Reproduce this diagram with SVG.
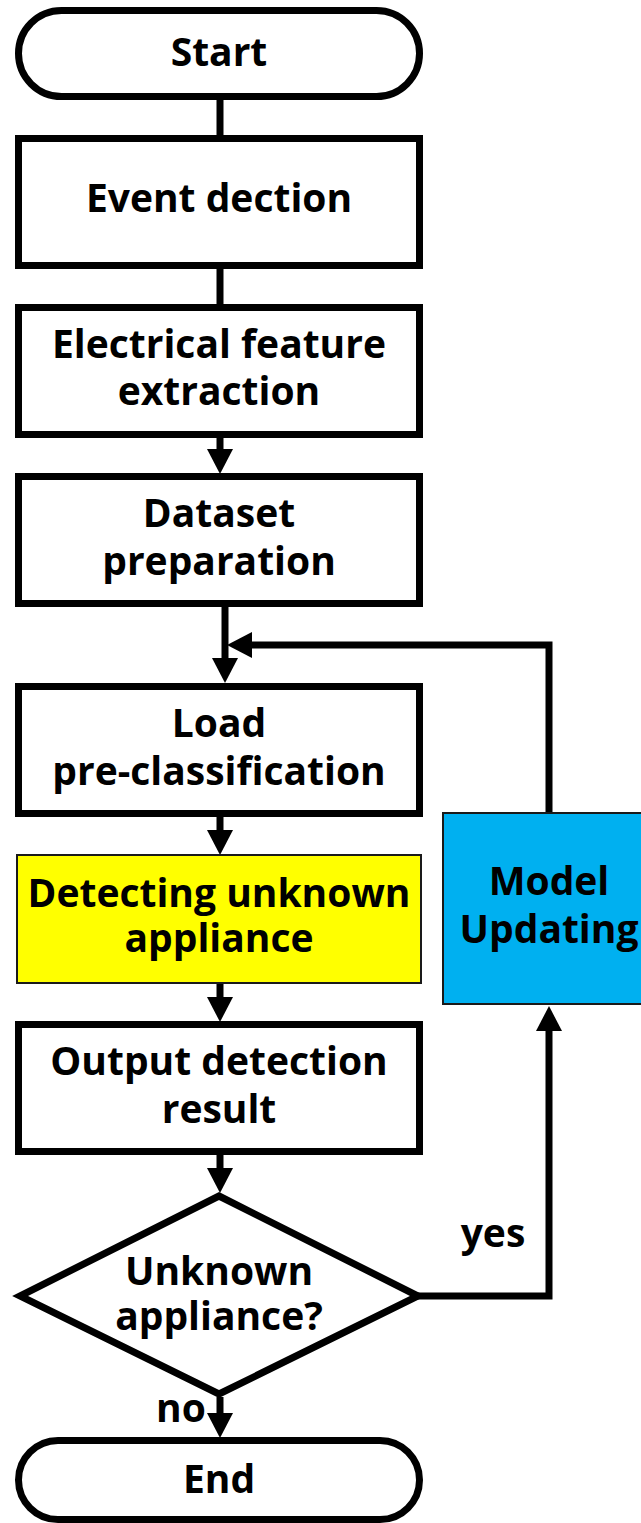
<svg xmlns="http://www.w3.org/2000/svg" width="641" height="1523" viewBox="0 0 641 1523">
<style>
.box{fill:#fff;stroke:#000;stroke-width:7;stroke-linejoin:miter}
.t{font-family:"Open Sans","Liberation Sans",sans-serif;font-weight:bold;font-size:39px;fill:#000;text-anchor:middle}
.c{fill:none;stroke:#000;stroke-width:7}
</style>
<defs>
<marker id="ah" markerUnits="userSpaceOnUse" markerWidth="26" markerHeight="26" viewBox="0 0 26 26" refX="2" refY="13" orient="auto">
<path d="M0,0 L25,13 L0,26 z" fill="#000"/>
</marker>
</defs>
<rect width="641" height="1523" fill="#fff"/>
<g id="connectors">
<path class="c" d="M220,100 V136"/>
<path class="c" d="M220,269 V305"/>
<path class="c" d="M220,438 V451" marker-end="url(#ah)"/>
<path class="c" d="M225,607 V660" marker-end="url(#ah)"/>
<path class="c" d="M549,814 V645 H250" marker-end="url(#ah)"/>
<path class="c" d="M220,817 V832" marker-end="url(#ah)"/>
<path class="c" d="M220,984 V999" marker-end="url(#ah)"/>
<path class="c" d="M220,1155 V1170" marker-end="url(#ah)"/>
<path class="c" d="M418,1296 H549 V1029" marker-end="url(#ah)"/>
<path class="c" d="M220,1397 V1415" marker-end="url(#ah)"/>
</g>
<g id="start">
<rect class="box" x="18.5" y="10.5" width="401" height="86" rx="43"/>
<text class="t" x="219" y="66">Start</text>
</g>
<g id="event">
<rect class="box" x="18.5" y="138.5" width="401" height="127"/>
<text class="t" x="219" y="212">Event dection</text>
</g>
<g id="feature">
<rect class="box" x="18.5" y="307.5" width="401" height="127"/>
<text class="t" x="219" y="358">Electrical feature</text>
<text class="t" x="219" y="405">extraction</text>
</g>
<g id="dataset">
<rect class="box" x="18.5" y="476.5" width="401" height="127"/>
<text class="t" x="219" y="527">Dataset</text>
<text class="t" x="219" y="575">preparation</text>
</g>
<g id="load">
<rect class="box" x="18.5" y="686.5" width="401" height="127"/>
<text class="t" x="219" y="737">Load</text>
<text class="t" x="219" y="785">pre-classification</text>
</g>
<g id="detect">
<rect x="17" y="855" width="404" height="128" fill="#FFFF00" stroke="#1a1a1a" stroke-width="2"/>
<text class="t" x="219" y="907">Detecting unknown</text>
<text class="t" x="219" y="952">appliance</text>
</g>
<g id="output">
<rect class="box" x="18.5" y="1024.5" width="401" height="127"/>
<text class="t" x="219" y="1075">Output detection</text>
<text class="t" x="219" y="1123">result</text>
</g>
<g id="decision">
<polygon class="box" points="219,1196 418,1296 219,1394 20,1296"/>
<text class="t" x="219" y="1285">Unknown</text>
<text class="t" x="219" y="1330">appliance?</text>
</g>
<g id="model">
<rect x="443" y="813" width="210" height="191" fill="#00B0F0" stroke="#1a1a1a" stroke-width="2"/>
<text class="t" x="549" y="895">Model</text>
<text class="t" x="549" y="943">Updating</text>
</g>
<g id="end">
<rect class="box" x="18.5" y="1440.5" width="401" height="79" rx="39.5"/>
<text class="t" x="219" y="1493">End</text>
</g>
<text class="t" x="493" y="1247">yes</text>
<text class="t" x="181" y="1422">no</text>
</svg>
